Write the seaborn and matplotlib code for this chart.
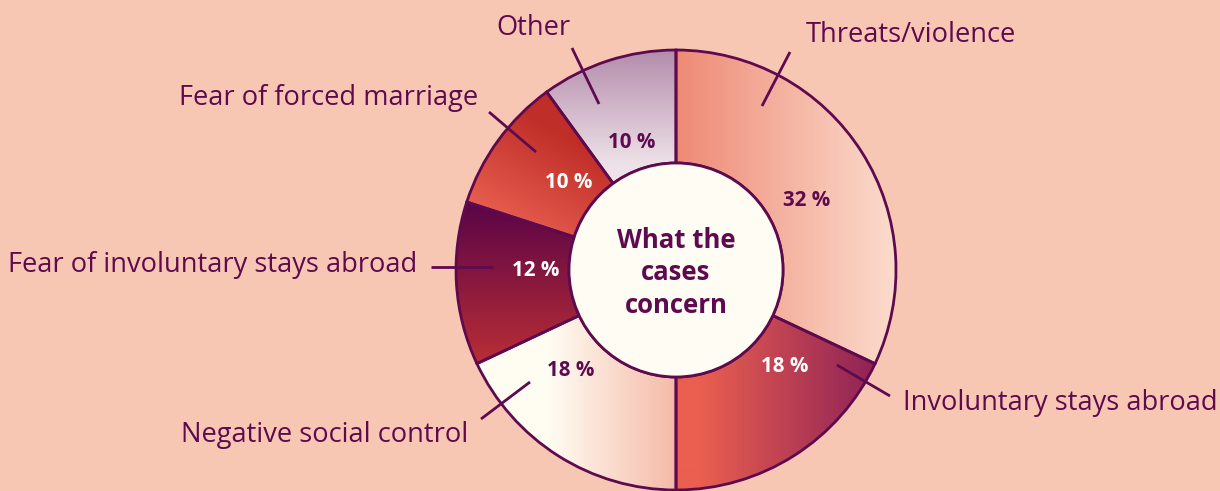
import numpy as np
import matplotlib
matplotlib.use("Agg")
import matplotlib.pyplot as plt
import seaborn as sns
from matplotlib.colors import LinearSegmentedColormap

sns.set_theme(style="white")
plt.rcParams['font.family'] = ['Open Sans', 'DejaVu Sans']

# data
categories = ["Threats/violence", "Involuntary stays abroad", "Negative social control",
              "Fear of involuntary stays abroad", "Fear of forced marriage", "Other"]
shares = [32, 18, 18, 12, 10, 10]
pct_labels = ["32 %", "18 %", "18 %", "12 %", "10 %", "10 %"]
center_title = "What the\ncases\nconcern"

W, H = 1220, 491
BG = "#F8C7B4"
INK = "#5E0A4F"

# gradient per wedge: (start px, end px, start colour, end colour) in y-down pixels
grads = [
    ((676, 0), (896, 0), "#EE8A75", "#FCDCCD"),
    ((700, 0), (885, 0), "#EA5F50", "#8A1F56"),
    ((550, 0), (690, 0), "#FFFCF2", "#F4B3A0"),
    ((0, 205), (0, 372), "#5C0547", "#BE3034"),
    ((540, 120), (480, 225), "#BF2E28", "#EC6454"),
    ((0, 48), (0, 165), "#B38BAB", "#EEE2E8"),
]
pct_colors = [INK, "white", INK, "white", "white", INK]
# text / leader layout in pixels (y down)
pct_pos = [(807, 200), (785, 367), (571, 370), (536, 270), (569, 182), (632, 142)]
label_pos = [(806, 35, 'left'), (903, 403, 'left'), (468, 435, 'right'),
             (417, 265, 'right'), (478, 98, 'right'), (533, 28, 'center')]
leaders = [((790, 52), (762, 106)), ((890, 396), (837, 365)), ((481, 419), (530, 382)),
           ((431, 267), (493, 267)), ((489, 112), (536, 152)), ((572, 48), (599, 104))]

cx, cy, r_out, r_in = 676, 270, 220, 107


def P(x, y):
    return x, H - y


fig = plt.figure(figsize=(W / 100, H / 100), dpi=100, facecolor=BG)
ax = fig.add_axes([0, 0, 1, 1])
ax.set_facecolor(BG)

wedges, _ = ax.pie(shares, center=P(cx, cy), radius=r_out, startangle=90,
                   counterclock=False, frame=True,
                   wedgeprops=dict(width=r_out - r_in, edgecolor=INK, linewidth=2,
                                   facecolor='none', zorder=3))
ax.set_xlim(0, W)
ax.set_ylim(0, H)
ax.set_aspect('equal')
ax.axis('off')

gx = np.linspace(0, W, 610)
gy = np.linspace(0, H, 246)
XX, YY = np.meshgrid(gx, H - gy)
for w, (p0, p1, c0, c1) in zip(wedges, grads):
    d = np.array(p1, float) - np.array(p0, float)
    t = ((XX - p0[0]) * d[0] + (YY - p0[1]) * d[1]) / (d @ d)
    t = np.clip(t, 0, 1)
    cmap = LinearSegmentedColormap.from_list("g", [c0, c1])
    im = ax.imshow(t, cmap=cmap, vmin=0, vmax=1, extent=(0, W, 0, H),
                   origin='lower', interpolation='bilinear', zorder=2)
    im.set_clip_path(w)

ax.add_patch(plt.Circle(P(cx, cy), r_in, facecolor="#FFFCF3", edgecolor=INK,
                        linewidth=2, zorder=4))
ax.text(*P(cx, cy + 3), center_title, ha='center', va='center', fontsize=18.5,
        fontweight='bold', color=INK, linespacing=1.28, zorder=5)

for lab, (x, y), col in zip(pct_labels, pct_pos, pct_colors):
    ax.text(*P(x, y), lab, ha='center', va='center', fontsize=14.8,
            fontweight='bold', color=col, zorder=5)

for cat, (x, y, ha) in zip(categories, label_pos):
    ax.text(*P(x, y), cat, ha=ha, va='center', fontsize=19.6, color=INK, zorder=5)

for (a, b) in leaders:
    ax.plot([a[0], b[0]], [H - a[1], H - b[1]], color=INK, linewidth=2,
            solid_capstyle='butt', zorder=6)

fig.savefig("out.png", dpi=100, facecolor=BG)
